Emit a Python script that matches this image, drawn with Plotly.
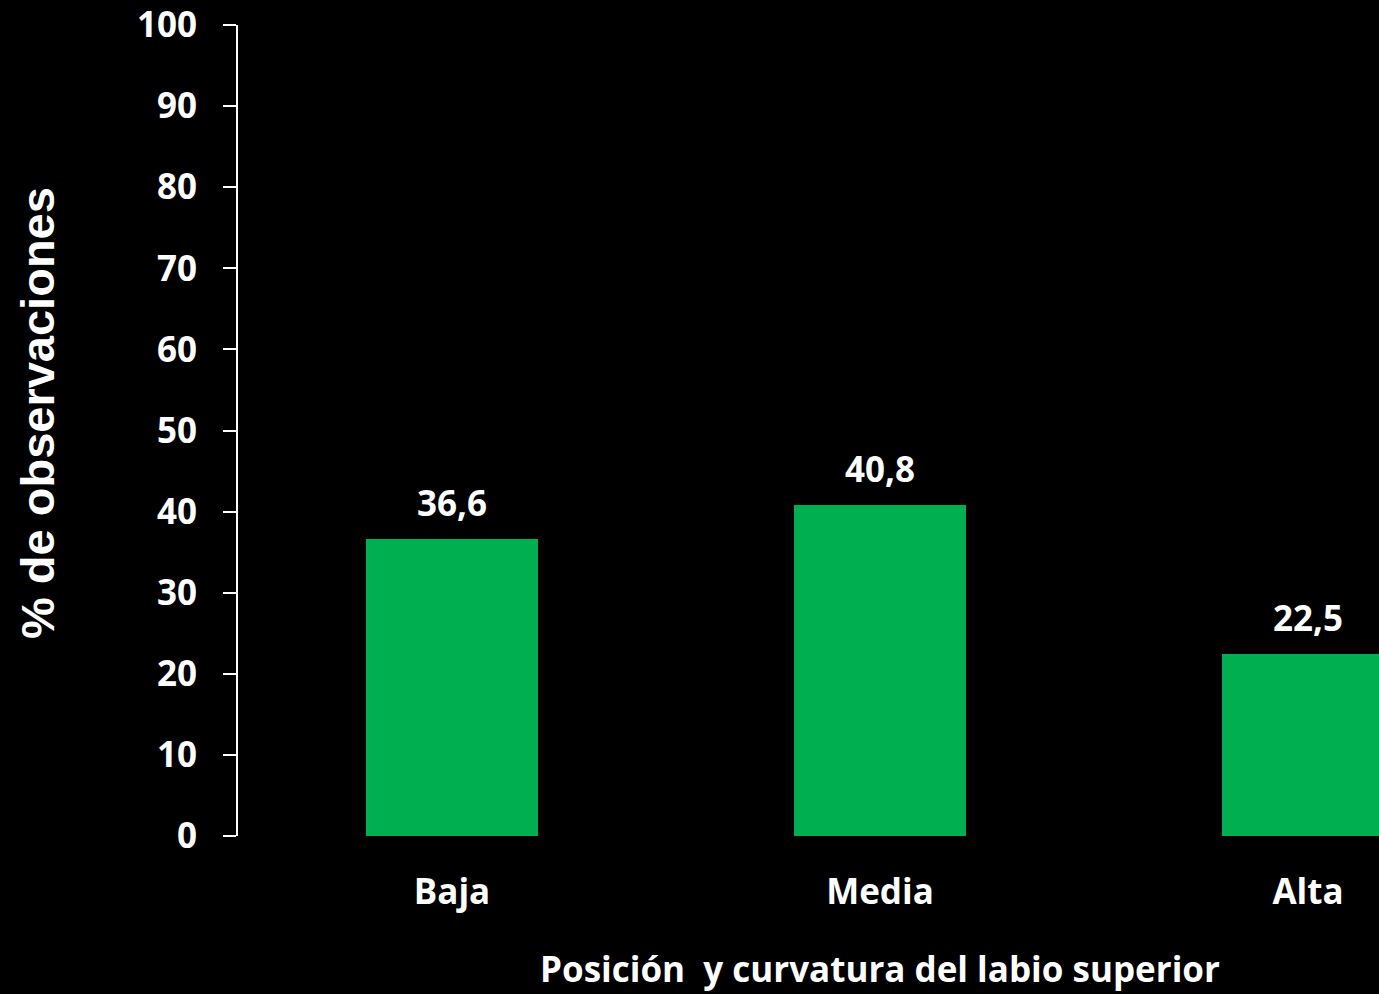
import plotly.graph_objects as go

categories = ["Baja", "Media", "Alta"]
values = [36.6, 40.8, 22.5]
value_labels = ["36,6", "40,8", "22,5"]
y_ticks = [0, 10, 20, 30, 40, 50, 60, 70, 80, 90, 100]

FONT = "Open Sans"
W, H = 1379, 994
L, T, B, R = 238, 23, 158, 0
FS = 35

fig = go.Figure()
fig.add_trace(go.Bar(
    x=[0, 1, 2], y=values, width=0.4,
    marker=dict(color="#00B050", line=dict(width=0)),
    hoverinfo="skip",
))
for xi, (v, lab) in enumerate(zip(values, value_labels)):
    fig.add_annotation(
        x=xi, y=v, text=lab, xref="x", yref="y",
        xanchor="center", yanchor="bottom", yshift=11, showarrow=False,
        font=dict(family=FONT, size=FS, color="white", weight="bold"),
    )

fig.update_layout(
    width=W, height=H,
    paper_bgcolor="black", plot_bgcolor="black",
    margin=dict(l=L, r=R, t=T, b=B),
    showlegend=False,
    bargap=0,
)
fig.update_xaxes(
    range=[-0.5, -0.5 + (W - L) / 428.0],
    tickmode="array", tickvals=[0, 1, 2], ticktext=categories,
    showline=False, showgrid=False, zeroline=False, ticks="",
    ticklabelstandoff=32,
    tickfont=dict(family=FONT, size=FS, color="white", weight="bold"),
)
fig.update_yaxes(
    range=[0, 100], tickvals=y_ticks,
    showline=True, linecolor="white", linewidth=2,
    ticks="outside", ticklen=13, tickwidth=2, tickcolor="white",
    showgrid=False, zeroline=False,
    ticklabelstandoff=19, ticklabeloverflow="allow",
    tickfont=dict(family=FONT, size=FS, color="white", weight="bold"),
)
fig.add_annotation(
    text="% de observaciones", xref="paper", yref="paper",
    x=(37 - L) / (W - L - R), y=(H - B - 412) / (H - T - B),
    xanchor="center", yanchor="middle", textangle=-90, showarrow=False,
    font=dict(family="Liberation Sans", size=47, color="white", weight="bold"),
)
fig.add_annotation(
    text="Posición  y curvatura del labio superior", xref="paper", yref="paper",
    x=(880 - L) / (W - L - R), y=-(H - (H - B)) / (H - T - B),
    xanchor="center", yanchor="bottom", showarrow=False,
    font=dict(family=FONT, size=FS, color="white", weight="bold"),
)
fig.write_html(
    "out.html",
    config={"displayModeBar": False},
    post_script="document.body.style.margin='0';document.body.style.background='black';document.body.style.overflow='hidden';",
)
